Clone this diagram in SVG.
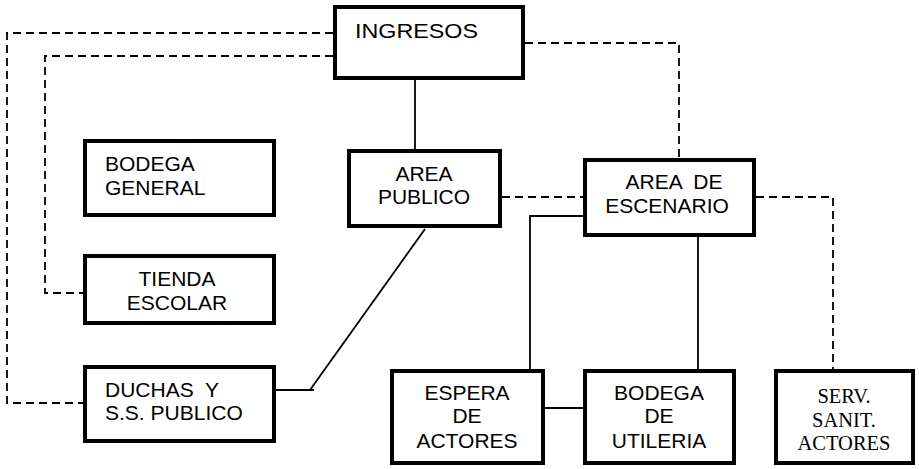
<svg xmlns="http://www.w3.org/2000/svg" width="919" height="469" viewBox="0 0 919 469">
<style>
.box{fill:#fff;stroke:#000;stroke-width:4}
.t{font-family:"Liberation Sans",Arial,sans-serif;font-size:21px;fill:#000}
.s{font-family:"Liberation Serif","Times New Roman",serif;font-size:20.5px;fill:#000}
.solid{fill:none;stroke:#000;stroke-width:1.8}
.dash{fill:none;stroke:#000;stroke-width:1.8;stroke-dasharray:8 5}
</style>
<rect width="919" height="469" fill="#fff"/>
<g id="connectors">
<polyline class="dash" points="333,33 7,33 7,403 83,403"/>
<polyline class="dash" points="333,56 45,56 45,293 83,293"/>
<polyline class="dash" points="525,43 679,43 679,158"/>
<line class="dash" x1="502" y1="197" x2="583" y2="197"/>
<polyline class="dash" points="756,197 833,197 833,369"/>
<line class="solid" x1="415" y1="80" x2="415" y2="149"/>
<polyline class="solid" points="276,390 314,390"/>
<line class="solid" x1="310" y1="390" x2="425" y2="229"/>
<polyline class="solid" points="587,216 530,216 530,369"/>
<line class="solid" x1="698" y1="237" x2="698" y2="369"/>
<line class="solid" x1="545" y1="408" x2="583" y2="408"/>
</g>
<g id="ingresos">
<rect class="box" x="335" y="7" width="188" height="71"/>
<text class="t" x="355" y="38" font-size="22" textLength="123" lengthAdjust="spacingAndGlyphs">INGRESOS</text>
</g>
<g id="bodega-general">
<rect class="box" x="85" y="141" width="189" height="74"/>
<text class="t" x="105" y="171">BODEGA</text>
<text class="t" x="105" y="195">GENERAL</text>
</g>
<g id="tienda-escolar">
<rect class="box" x="85" y="256" width="189" height="67"/>
<text class="t" x="177" y="286" text-anchor="middle">TIENDA</text>
<text class="t" x="177" y="310" text-anchor="middle">ESCOLAR</text>
</g>
<g id="duchas">
<rect class="box" x="85" y="367" width="189" height="74"/>
<text class="t" x="105" y="397" xml:space="preserve">DUCHAS  Y</text>
<text class="t" x="105" y="420">S.S. PUBLICO</text>
</g>
<g id="area-publico">
<rect class="box" x="349" y="151" width="151" height="75"/>
<text class="t" x="424" y="181" text-anchor="middle">AREA</text>
<text class="t" x="424" y="204" text-anchor="middle">PUBLICO</text>
</g>
<g id="area-escenario">
<rect class="box" x="585" y="160" width="169" height="75"/>
<text class="t" x="674" y="189" text-anchor="middle" xml:space="preserve">AREA  DE</text>
<text class="t" x="667" y="213" text-anchor="middle">ESCENARIO</text>
</g>
<g id="espera-actores">
<rect class="box" x="392" y="371" width="151" height="92"/>
<text class="t" x="467" y="400" text-anchor="middle">ESPERA</text>
<text class="t" x="467" y="423" text-anchor="middle">DE</text>
<text class="t" x="467" y="448" text-anchor="middle">ACTORES</text>
</g>
<g id="bodega-utileria">
<rect class="box" x="585" y="371" width="149" height="92"/>
<text class="t" x="659" y="400" text-anchor="middle">BODEGA</text>
<text class="t" x="659" y="423" text-anchor="middle">DE</text>
<text class="t" x="659" y="448" text-anchor="middle">UTILERIA</text>
</g>
<g id="serv-sanit">
<rect class="box" x="776" y="371" width="137" height="92"/>
<text class="s" x="844" y="403" text-anchor="middle">SERV.</text>
<text class="s" x="844" y="427" text-anchor="middle">SANIT.</text>
<text class="s" x="844" y="450" text-anchor="middle">ACTORES</text>
</g>
</svg>
